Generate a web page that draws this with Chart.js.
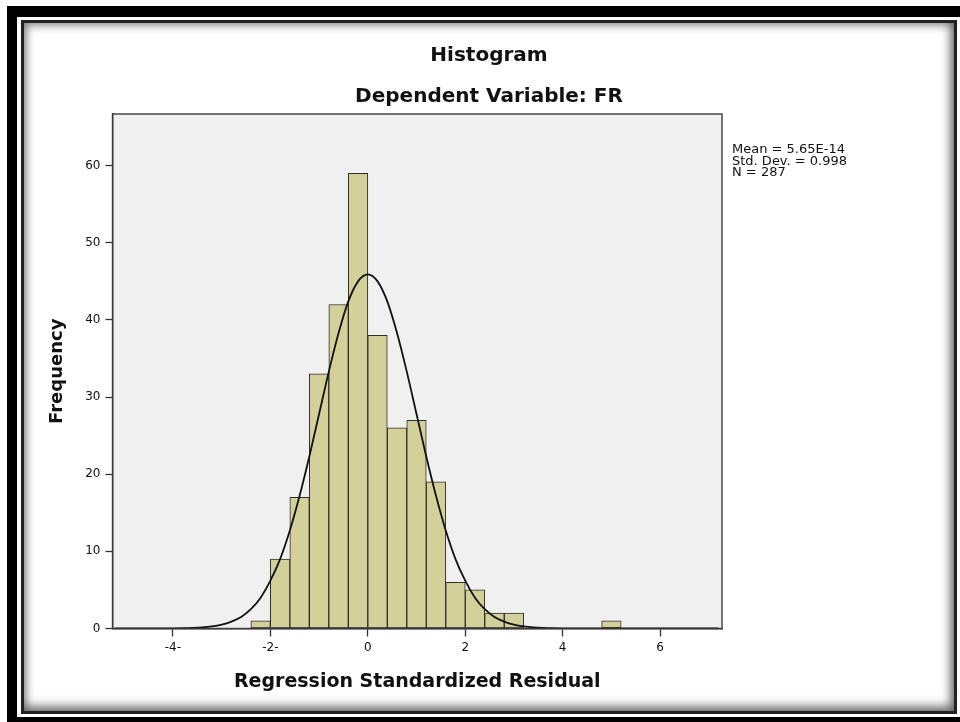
<!DOCTYPE html>
<html>
<head>
<meta charset="utf-8">
<title>Histogram</title>
<script src="https://cdn.jsdelivr.net/npm/chart.js@4.4.1/dist/chart.umd.min.js"></script>
<style>
  html, body { margin: 0; padding: 0; width: 960px; height: 722px; overflow: hidden; background: #fff; }
  #outer { position: absolute; left: 7px; top: 6px; width: 980px; height: 721px; box-sizing: border-box;
           border: 10px solid #000; border-top-width: 11px; }
  #panel { position: absolute; left: 21px; top: 20px; width: 936px; height: 694px; box-sizing: border-box;
           border: 3px solid #222; background: #fff;
           box-shadow: inset 0 0 10px 2px rgba(0,0,0,0.45), inset -3px -5px 12px rgba(0,0,0,0.35); }
  #wrap { position: absolute; left: 21px; top: 20px; width: 936px; height: 694px; }
</style>
</head>
<body>
<div id="outer"></div>
<div id="panel"></div>
<div id="wrap"><canvas id="hist" width="936" height="694"></canvas></div>
<script>
// histogram bins (width 0.4)
const binCenters = [-2.2, -1.8, -1.4, -1.0, -0.6, -0.2, 0.2, 0.6, 1.0, 1.4, 1.8, 2.2, 2.6, 3.0, 5.0];
const frequencies = [1, 9, 17, 33, 42, 59, 38, 26, 27, 19, 6, 5, 2, 2, 1];

// normal curve, read at points along the x axis
const curveX = [-5.2, -4.0, -3.8, -3.6, -3.4, -3.2, -3.0, -2.8, -2.6, -2.4, -2.2, -2.0, -1.8, -1.6, -1.4, -1.2, -1.0, -0.8, -0.6, -0.4, -0.2,
                0, 0.2, 0.4, 0.6, 0.8, 1.0, 1.2, 1.4, 1.6, 1.8, 2.0, 2.2, 2.4, 2.6, 2.8, 3.0, 3.2, 3.4, 3.6, 3.8, 4.0, 7.2];
const curveY = [0, 0.02, 0.03, 0.07, 0.14, 0.27, 0.5, 0.9, 1.5, 2.5, 4.0, 6.2, 9.0, 12.7, 17.2, 22.3, 27.8, 33.3, 38.3, 42.4, 45.0,
                45.9, 45.0, 42.4, 38.3, 33.3, 27.8, 22.3, 17.2, 12.7, 9.0, 6.2, 4.0, 2.5, 1.5, 0.9, 0.5, 0.27, 0.14, 0.07, 0.03, 0.02, 0];

const xTicks = [-4, -2, 0, 2, 4, 6];
const xTickLabels = ["-4-", "-2-", "0", "2", "4", "6"];
const yTicks = [0, 10, 20, 30, 40, 50, 60];
const statLines = ["Mean = 5.65E-14", "Std. Dev. = 0.998", "N = 287"];

const FONT = "'DejaVu Sans', 'Liberation Sans', Arial, sans-serif";

// grey plot background, frame and the stats text on the right
const plotFrame = {
  id: "plotFrame",
  beforeDraw(chart) {
    const { ctx, chartArea: a } = chart;
    ctx.save();
    ctx.fillStyle = "#f0f0f0";
    ctx.fillRect(a.left, a.top, a.width, a.height);
    ctx.restore();
  },
  afterDatasetsDraw(chart) {
    const { ctx, chartArea: a } = chart;
    ctx.save();
    ctx.strokeStyle = "#3a3a3a";
    ctx.lineWidth = 1.4;
    ctx.strokeRect(a.left, a.top, a.width, a.height);
    ctx.restore();
  },
  afterDraw(chart) {
    const { ctx, chartArea: a } = chart;
    ctx.save();
    ctx.font = "13px " + FONT;
    ctx.fillStyle = "#111";
    ctx.textBaseline = "middle";
    ctx.textAlign = "left";
    statLines.forEach((t, i) => ctx.fillText(t, a.right + 10, a.top + 36 + i * 11.5));
    ctx.restore();
  }
};

new Chart(document.getElementById("hist"), {
  type: "bar",
  data: {
    datasets: [
      {
        type: "line",
        data: curveX.map((x, i) => ({ x, y: curveY[i] })),
        borderColor: "#111",
        borderWidth: 1.8,
        pointRadius: 0,
        cubicInterpolationMode: "monotone",
        fill: false,
        order: 0,
      },
      {
        type: "bar",
        data: binCenters.map((x, i) => ({ x, y: frequencies[i] })),
        backgroundColor: "#d4d09a",
        borderColor: "#2e2e2e",
        borderWidth: 1,
        borderSkipped: false,
        barPercentage: 1,
        categoryPercentage: 1,
        order: 1,
      },
    ],
  },
  options: {
    responsive: false,
    animation: false,
    layout: { padding: 0 },
    plugins: {
      legend: { display: false },
      tooltip: { enabled: false },
      title: {
        display: true,
        text: "Histogram",
        color: "#111",
        font: { family: FONT, size: 20, weight: "bold" },
        padding: { top: 24, bottom: 0 },
      },
      subtitle: {
        display: true,
        text: "Dependent Variable: FR",
        color: "#111",
        font: { family: FONT, size: 20, weight: "bold" },
        padding: { top: 17, bottom: 5 },
      },
    },
    scales: {
      x: {
        type: "linear",
        min: -5.24,
        max: 7.27,
        offset: false,
        afterBuildTicks: (s) => { s.ticks = xTicks.map((v) => ({ value: v })); },
        afterFit: (s) => { s.height = 85.5; },
        grid: { display: true, offset: false, drawOnChartArea: false, drawTicks: true, tickLength: 8, tickColor: "#333", tickWidth: 1.3 },
        border: { display: true, color: "#333", width: 1.4 },
        ticks: {
          color: "#111",
          padding: 4,
          maxRotation: 0,
          autoSkip: false,
          font: { family: FONT, size: 12 },
          callback: (v, i) => xTickLabels[i],
        },
        title: {
          display: true,
          text: "Regression Standardized Residual",
          color: "#111",
          font: { family: FONT, size: 19, weight: "bold" },
          padding: { top: 0, bottom: 20.6 },
        },
      },
      y: {
        type: "linear",
        min: 0,
        max: 66.7,
        afterBuildTicks: (s) => { s.ticks = yTicks.map((v) => ({ value: v })); },
        afterFit: (s) => { s.width = 91.5; },
        grid: { display: true, drawOnChartArea: false, drawTicks: true, tickLength: 7, tickColor: "#333", tickWidth: 1.3 },
        border: { display: true, color: "#333", width: 1.4 },
        ticks: { color: "#111", padding: 5, font: { family: FONT, size: 12 } },
        title: {
          display: true,
          text: "Frequency",
          color: "#111",
          font: { family: FONT, size: 18, weight: "bold" },
          padding: { top: 26, bottom: 0 },
        },
      },
      // empty space right of the plot for the stats block
      side: {
        type: "linear",
        position: "right",
        display: true,
        grid: { display: false },
        border: { display: false },
        ticks: { display: false },
        afterFit: (s) => { s.width = 235; },
      },
    },
  },
  plugins: [plotFrame],
});
</script>
</body>
</html>
